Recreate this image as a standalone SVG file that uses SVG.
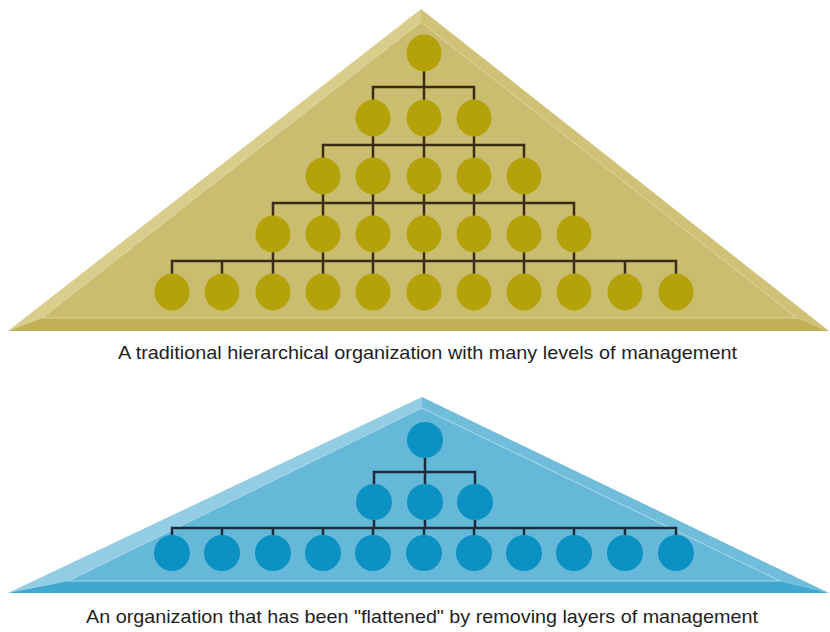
<svg xmlns="http://www.w3.org/2000/svg" width="830" height="632" viewBox="0 0 830 632">
<defs>
<style>
.gc{fill:#b4a20a}
.bc{fill:#0b91c2}
.gl{stroke:#3a2c12;stroke-width:2.5;fill:none}
.bl{stroke:#1c2c3c;stroke-width:2.5;fill:none}
.cap{font-family:"Liberation Sans",Arial,sans-serif;font-size:19px;fill:#1e1e1e;text-anchor:middle}
</style>
</defs>
<rect width="830" height="632" fill="#ffffff"/>
<g id="pyramid-top">
<polygon points="421,9 8,331 42,318 421,22" fill="#d9cd8c"/>
<polygon points="421,9 829,331 797,318 421,22" fill="#cfc276"/>
<polygon points="8,331 829,331 797,318 42,318" fill="#c1b055"/>
<polygon points="421,22 42,318 797,318" fill="#cbbd70"/>
<polyline points="42,318 421,22 797,318" fill="none" stroke="#ddd39a" stroke-width="1"/>
<line x1="42" y1="318" x2="797" y2="318" stroke="#ddd39a" stroke-width="1"/>
</g>
<g id="pyramid-bottom">
<polygon points="422,397 8,593 68,581 422,408" fill="#92cde4"/>
<polygon points="422,397 829,593 780,581 422,408" fill="#6fbcdb"/>
<polygon points="8,593 829,593 780,581 68,581" fill="#3ea8d0"/>
<polygon points="422,408 68,581 780,581" fill="#66b8d9"/>
<polyline points="68,581 422,408 780,581" fill="none" stroke="#a5d6ea" stroke-width="1"/>
<line x1="68" y1="581" x2="780" y2="581" stroke="#a5d6ea" stroke-width="1"/>
</g>
<g id="connectors">
<path class="gl" d="M424,71V87M373,100V87H474V100M424,87V100"/>
<path class="gl" d="M373,136V145M424,136V145M474,136V145M323,158V145H524V158M373,145V158M424,145V158M474,145V158"/>
<path class="gl" d="M323,194V203M373,194V203M424,194V203M474,194V203M524,194V203M273,216V203H574V216M323,203V216M373,203V216M424,203V216M474,203V216M524,203V216"/>
<path class="gl" d="M273,252V261M323,252V261M373,252V261M424,252V261M474,252V261M524,252V261M574,252V261M172,274V261H676V274M222,261V274M273,261V274M323,261V274M373,261V274M424,261V274M474,261V274M524,261V274M574,261V274M625,261V274"/>
<path class="bl" d="M425,458V472M374,484V472H475V484M425,472V484"/>
<path class="bl" d="M374,520V528M425,520V528M475,520V528M172,535V528H676V535M222,528V535M273,528V535M323,528V535M373,528V535M424,528V535M474,528V535M524,528V535M574,528V535M625,528V535"/>
</g>
<g id="top-level-1"><ellipse class="gc" cx="424" cy="53" rx="17.5" ry="18.5"/></g>
<g id="top-level-2">
<ellipse class="gc" cx="373" cy="118" rx="17.5" ry="18.5"/>
<ellipse class="gc" cx="424" cy="118" rx="17.5" ry="18.5"/>
<ellipse class="gc" cx="474" cy="118" rx="17.5" ry="18.5"/>
</g>
<g id="top-level-3">
<ellipse class="gc" cx="323" cy="176" rx="17.5" ry="18.5"/>
<ellipse class="gc" cx="373" cy="176" rx="17.5" ry="18.5"/>
<ellipse class="gc" cx="424" cy="176" rx="17.5" ry="18.5"/>
<ellipse class="gc" cx="474" cy="176" rx="17.5" ry="18.5"/>
<ellipse class="gc" cx="524" cy="176" rx="17.5" ry="18.5"/>
</g>
<g id="top-level-4">
<ellipse class="gc" cx="273" cy="234" rx="17.5" ry="18.5"/>
<ellipse class="gc" cx="323" cy="234" rx="17.5" ry="18.5"/>
<ellipse class="gc" cx="373" cy="234" rx="17.5" ry="18.5"/>
<ellipse class="gc" cx="424" cy="234" rx="17.5" ry="18.5"/>
<ellipse class="gc" cx="474" cy="234" rx="17.5" ry="18.5"/>
<ellipse class="gc" cx="524" cy="234" rx="17.5" ry="18.5"/>
<ellipse class="gc" cx="574" cy="234" rx="17.5" ry="18.5"/>
</g>
<g id="top-level-5">
<ellipse class="gc" cx="172" cy="292" rx="17.5" ry="18.5"/>
<ellipse class="gc" cx="222" cy="292" rx="17.5" ry="18.5"/>
<ellipse class="gc" cx="273" cy="292" rx="17.5" ry="18.5"/>
<ellipse class="gc" cx="323" cy="292" rx="17.5" ry="18.5"/>
<ellipse class="gc" cx="373" cy="292" rx="17.5" ry="18.5"/>
<ellipse class="gc" cx="424" cy="292" rx="17.5" ry="18.5"/>
<ellipse class="gc" cx="474" cy="292" rx="17.5" ry="18.5"/>
<ellipse class="gc" cx="524" cy="292" rx="17.5" ry="18.5"/>
<ellipse class="gc" cx="574" cy="292" rx="17.5" ry="18.5"/>
<ellipse class="gc" cx="625" cy="292" rx="17.5" ry="18.5"/>
<ellipse class="gc" cx="676" cy="292" rx="17.5" ry="18.5"/>
</g>
<g id="bottom-level-1"><ellipse class="bc" cx="425" cy="440" rx="18" ry="18"/></g>
<g id="bottom-level-2">
<ellipse class="bc" cx="374" cy="502" rx="18" ry="18"/>
<ellipse class="bc" cx="425" cy="502" rx="18" ry="18"/>
<ellipse class="bc" cx="475" cy="502" rx="18" ry="18"/>
</g>
<g id="bottom-level-3">
<ellipse class="bc" cx="172" cy="553" rx="18" ry="18"/>
<ellipse class="bc" cx="222" cy="553" rx="18" ry="18"/>
<ellipse class="bc" cx="273" cy="553" rx="18" ry="18"/>
<ellipse class="bc" cx="323" cy="553" rx="18" ry="18"/>
<ellipse class="bc" cx="373" cy="553" rx="18" ry="18"/>
<ellipse class="bc" cx="424" cy="553" rx="18" ry="18"/>
<ellipse class="bc" cx="474" cy="553" rx="18" ry="18"/>
<ellipse class="bc" cx="524" cy="553" rx="18" ry="18"/>
<ellipse class="bc" cx="574" cy="553" rx="18" ry="18"/>
<ellipse class="bc" cx="625" cy="553" rx="18" ry="18"/>
<ellipse class="bc" cx="676" cy="553" rx="18" ry="18"/>
</g>
<g id="captions">
<text class="cap" x="427.5" y="359" textLength="619" lengthAdjust="spacingAndGlyphs">A traditional hierarchical organization with many levels of management</text>
<text class="cap" x="422" y="623" textLength="672" lengthAdjust="spacingAndGlyphs">An organization that has been "flattened" by removing layers of management</text>
</g>
</svg>
